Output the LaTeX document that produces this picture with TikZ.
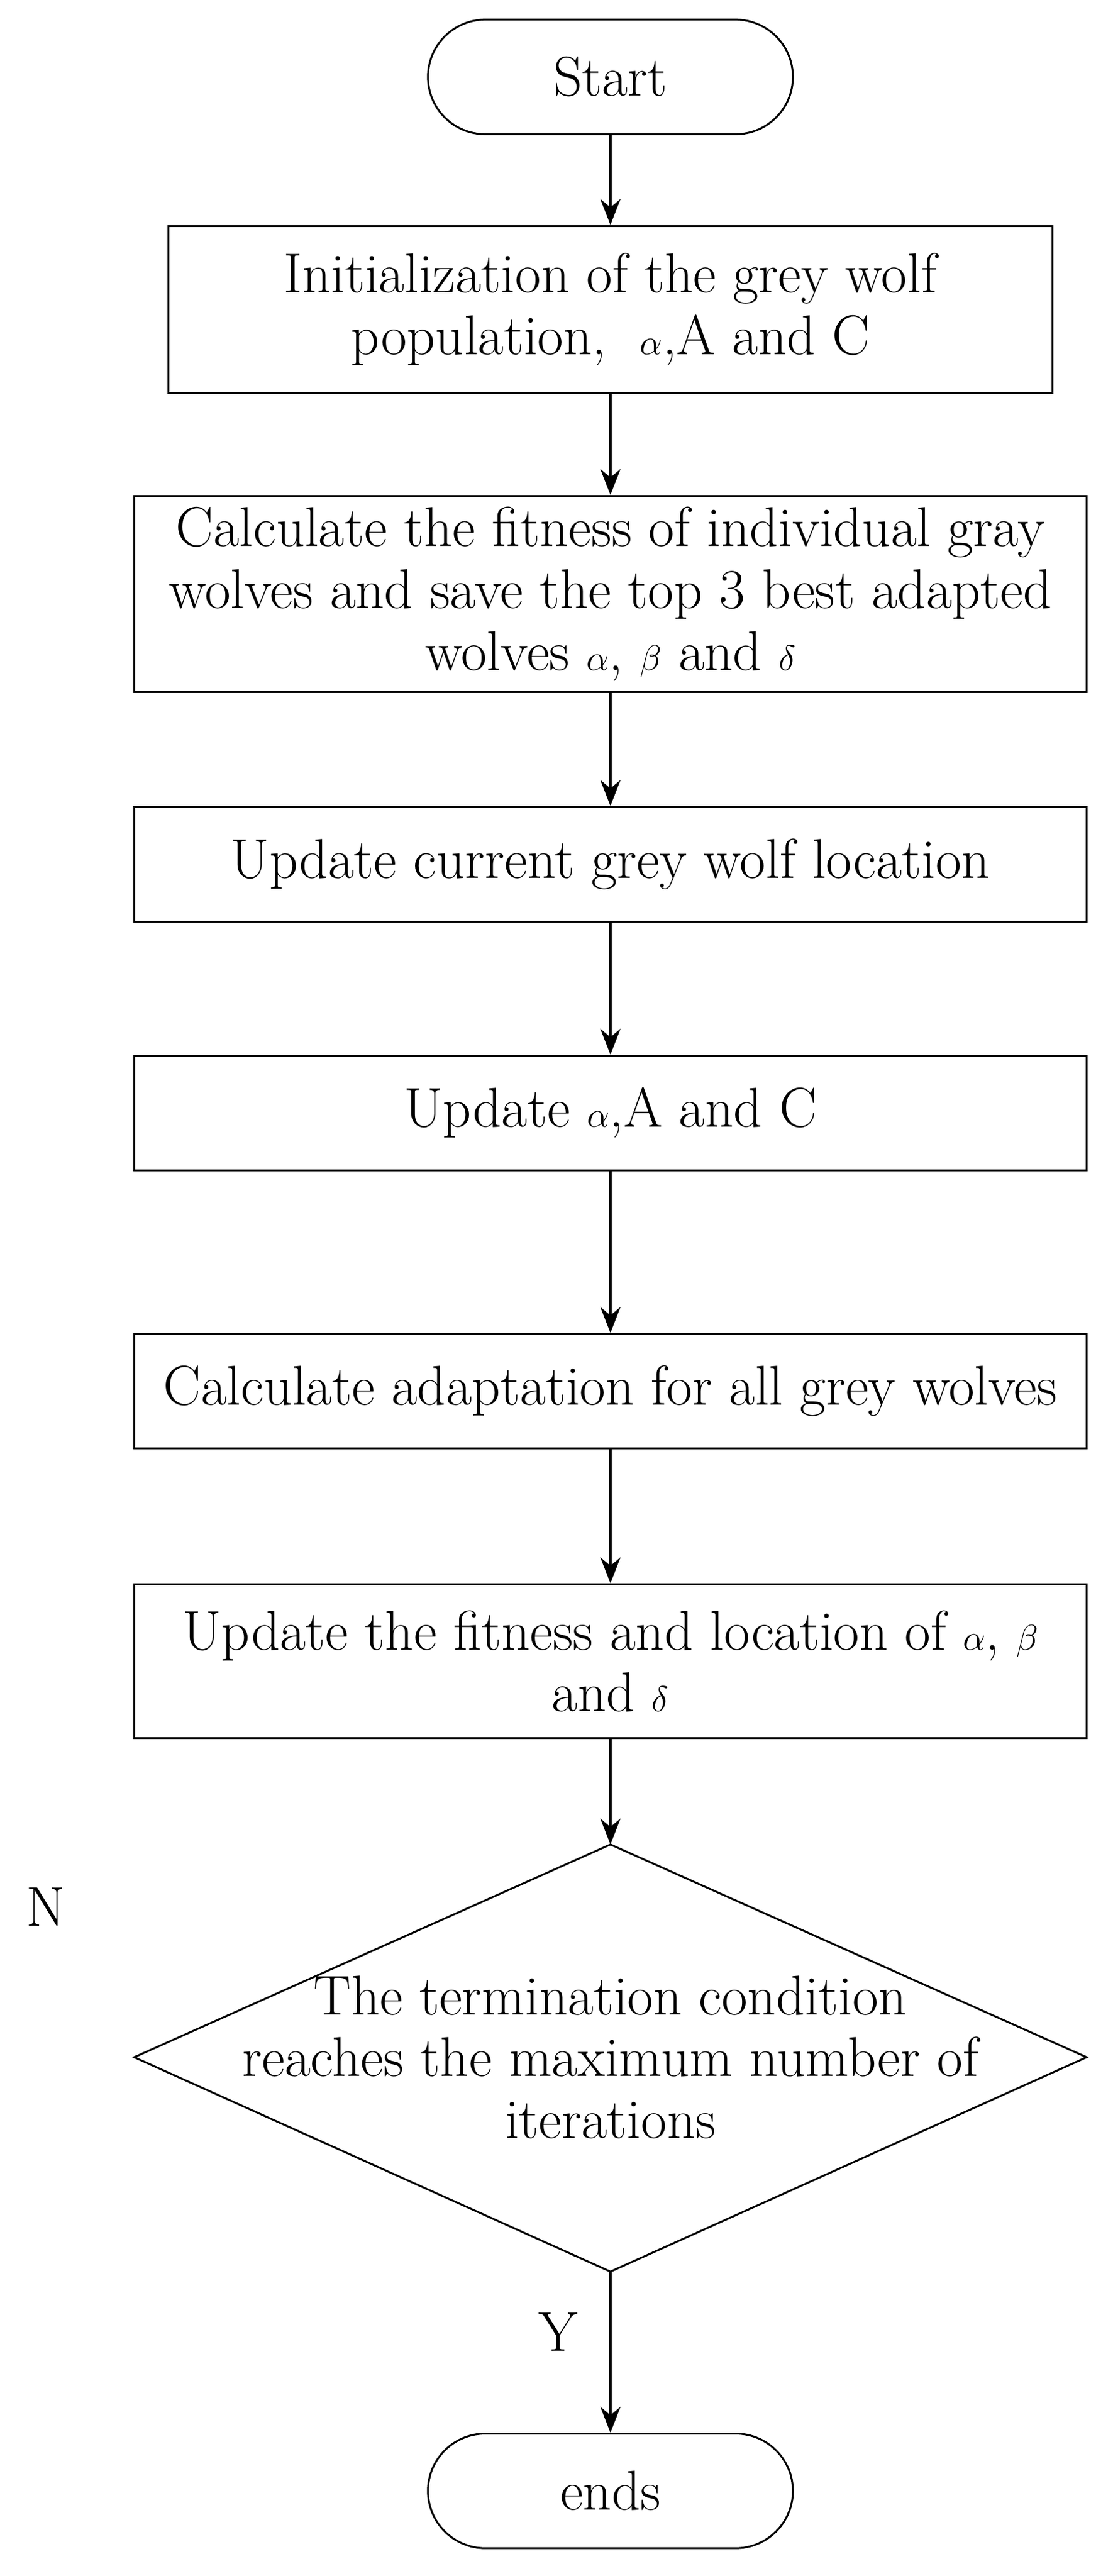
\documentclass[tikz,border=0pt]{standalone}
\usetikzlibrary{shapes.geometric,arrows.meta}
\begin{document}
\begin{tikzpicture}[x=0.04cm,y=-0.04cm,
  every node/.style={font=\fontsize{39}{43}\selectfont},
  box/.style={draw,line width=1.3pt,inner sep=0pt,align=center},
  arr/.style={-{Stealth[length=18pt,width=14pt]},line width=1.6pt}]
\useasboundingbox (0,0) rectangle (680,1574);
\node[box,rounded corners=35*0.04cm,minimum width=223*0.04cm,minimum height=70*0.04cm] (s) at (373,47) {Start};
\node[box,minimum width=540*0.04cm,minimum height=102*0.04cm] (b1) at (373,189) {Initialization of the grey wolf\\population, \ $\alpha$,A and C};
\node[box,minimum width=582*0.04cm,minimum height=120*0.04cm] (b2) at (373,363) {Calculate the fitness of individual gray\\wolves and save the top 3 best adapted\\wolves $\alpha$, $\beta$ and $\delta$};
\node[box,minimum width=582*0.04cm,minimum height=70*0.04cm] (b3) at (373,528) {Update current grey wolf location};
\node[box,minimum width=582*0.04cm,minimum height=70*0.04cm] (b4) at (373,680) {Update $\alpha$,A and C};
\node[box,minimum width=582*0.04cm,minimum height=70*0.04cm] (b5) at (373,850) {Calculate adaptation for all grey wolves};
\node[box,minimum width=582*0.04cm,minimum height=94*0.04cm] (b6) at (373,1015) {Update the fitness and location of $\alpha$, $\beta$\\and $\delta$};
\coordinate (dt) at (373,1127);
\coordinate (dl) at (82,1257);
\coordinate (dr) at (664,1257);
\coordinate (db) at (373,1388);
\draw[line width=1.3pt] (dt) -- (dr) -- (db) -- (dl) -- cycle;
\node[align=center] (dtext) at (373,1257) {The termination condition\\reaches the maximum number of\\iterations};
\node[box,rounded corners=35*0.04cm,minimum width=223*0.04cm,minimum height=70*0.04cm] (e) at (373,1522) {ends};
\node (n) at (28,1165) {N};
\node (y) at (341,1425) {Y};
\draw[arr] (s) -- (b1);
\draw[arr] (b1) -- (b2);
\draw[arr] (b2) -- (b3);
\draw[arr] (b3) -- (b4);
\draw[arr] (b4) -- (b5);
\draw[arr] (b5) -- (b6);
\draw[arr] (b6) -- (dt);
\draw[arr] (db) -- (e);
\end{tikzpicture}
\end{document}
